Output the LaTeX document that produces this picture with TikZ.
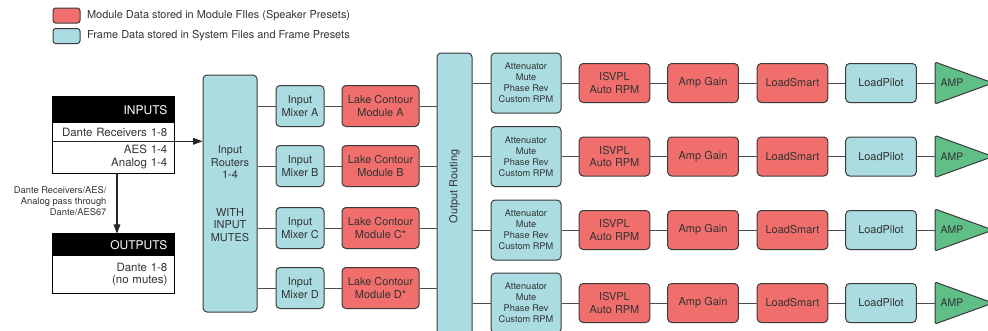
\documentclass[tikz,border=0pt]{standalone}
\usepackage{fontspec}
\setmainfont{TeX Gyre Heros}
\usetikzlibrary{arrows.meta,positioning}
\definecolor{modred}{HTML}{F06F6C}
\definecolor{framebl}{HTML}{AADCE2}
\definecolor{ampgr}{HTML}{60BE87}
\definecolor{edgegr}{HTML}{3A3A3A}
\definecolor{txtgr}{HTML}{333333}
\tikzset{
  blk/.style={draw=edgegr,line width=0.75pt,rounded corners=3pt,text=txtgr,align=center,inner sep=1pt,font=\fontsize{8.2}{9.5}\selectfont},
  modbox/.style={blk,fill=modred},
  frmbox/.style={blk,fill=framebl},
  chainbox/.style={minimum width=53pt,minimum height=29.25pt},
  attbox/.style={frmbox,minimum width=52.5pt,minimum height=45pt,font=\fontsize{6.9}{8.25}\selectfont},
  headbox/.style={fill=black,text=white,text width=80.75pt,align=right,inner xsep=5pt,inner ysep=0pt,font=\fontsize{9}{10}\selectfont},
  rowbox/.style={fill=white,text=txtgr,text width=80.75pt,align=right,inner xsep=5pt,inner ysep=0pt,font=\fontsize{8.6}{9.3}\selectfont},
  outline/.style={draw=black,line width=1.1pt},
  wire/.style={draw=black!70,line width=0.75pt},
  sigarrow/.style={draw=black!85,line width=0.8pt,-{Triangle[length=7pt,width=5pt]}},
  legtxt/.style={text=txtgr,inner sep=1pt,font=\fontsize{8.2}{9.5}\selectfont},
  ampfill/.style={fill=ampgr,draw=edgegr,line width=0.75pt,rounded corners=1.5pt}
}
\begin{document}
\begin{tikzpicture}[x=0.75pt,y=-0.75pt]
\useasboundingbox (0,0) rectangle (988,330);
\clip (0,0) rectangle (988,330);
% legend
\node[modbox,rounded corners=2pt,minimum width=20.25pt,minimum height=11.25pt] (legmod) at (66.5,15.5) {};
\node[frmbox,rounded corners=2pt,minimum width=20.25pt,minimum height=11.25pt] (legfrm) at (66.5,36) {};
\node[legtxt,anchor=west] (legmodtxt) at (85.5,15.5) {Module Data stored in Module FIles (Speaker Presets)};
\node[legtxt,anchor=west] (legfrmtxt) at (85.5,36) {Frame Data stored in System Files and Frame Presets};
% inputs and outputs
\node[headbox,minimum height=19.5pt] (inhead) at (113.5,110) {INPUTS};
\node[rowbox,minimum height=13.5pt] (indante) at (113.5,132) {Dante Receivers 1-8};
\node[rowbox,minimum height=24pt] (inaes) at (113.5,157) {AES 1-4\\Analog 1-4};
\draw[outline] (inhead.north west) rectangle (inaes.south east);
\node[headbox,minimum height=16.5pt] (outhead) at (113.5,245) {OUTPUTS};
\node[rowbox,minimum height=27.75pt] (outdante) at (113.5,274.5) {Dante 1-8\\(no mutes)};
\draw[outline] (outhead.north west) rectangle (outdante.south east);
\node[text=txtgr,anchor=east,align=right,inner sep=1pt,font=\fontsize{7}{8}\selectfont] (passnote) at (108,201) {Dante Receivers/AES/\\Analog pass through\\Dante/AES67};
% routers
\node[frmbox,minimum width=40.5pt,minimum height=177.75pt,font=\fontsize{8.2}{9.4}\selectfont] (router) at (230,193.5) {Input\\Routers\\1-4\\[18.8pt]WITH\\INPUT\\MUTES};
\node[frmbox,minimum width=26.25pt,minimum height=219pt] (outr) at (454.5,199) {};
\node[rotate=90,text=txtgr,inner sep=1pt,font=\fontsize{8.2}{9.5}\selectfont] (outrtxt) at (454.5,186.5) {Output Routing};
\draw[sigarrow] (indante.south west) -- (indante.south -| router.west);
\draw[sigarrow] ([xshift=2.6pt]inaes.south) -- ([xshift=2.6pt]inaes.south |- outhead.north);
% input mixers and modules
\foreach \m/\y/\s in {A/106/{},B/166/{},C/228/*,D/288/*} {
  \node[frmbox,minimum width=36pt,minimum height=30.75pt] (mix\m) at (300,\y) {Input\\Mixer \m};
  \node[modbox,minimum width=57.75pt,minimum height=30.75pt] (lake\m) at (380.5,\y) {Lake Contour\\Module \m\s};
  \draw[wire] (router.east |- mix\m.west) -- (mix\m.west);
  \draw[wire] (mix\m) -- (lake\m);
  \draw[wire] (lake\m) -- (lake\m.east -| outr.west);
}
% output chains
\foreach \r/\y in {1/83,2/156.5,3/230,4/303} {
  \node[attbox] (att\r) at (526,\y) {Attenuator\\Mute\\Phase Rev\\Custom RPM};
  \node[modbox,chainbox] (isv\r) at (614.5,\y) {ISVPL\\Auto RPM};
  \node[modbox,chainbox] (gain\r) at (703,\y) {Amp Gain};
  \node[modbox,chainbox] (lsm\r) at (792.5,\y) {LoadSmart};
  \node[frmbox,chainbox] (lpl\r) at (881,\y) {LoadPilot};
  \coordinate (ampin\r) at (935,\y);
  \draw[ampfill] (ampin\r) -- ++(0,-21) -- ++(58,21) -- ++(-58,21) -- cycle;
  \node[text=txtgr,inner sep=1pt,font=\fontsize{7.8}{9}\selectfont] (amp\r) at (952,\y) {AMP};
  \draw[wire] (outr.east |- att\r.west) -- (att\r.west);
  \foreach \a/\b in {att/isv,isv/gain,gain/lsm,lsm/lpl}
    \draw[wire] (\a\r) -- (\b\r);
  \draw[wire] (lpl\r) -- (ampin\r);
}
\end{tikzpicture}
\end{document}
